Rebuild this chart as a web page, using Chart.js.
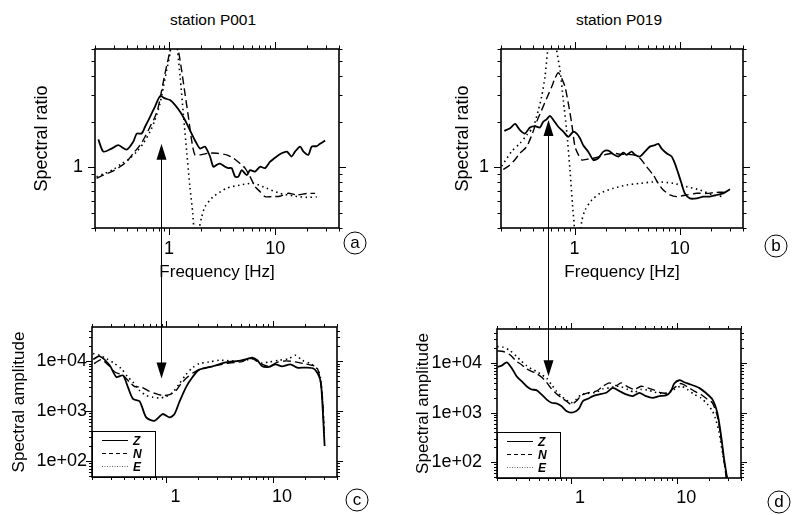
<!DOCTYPE html>
<html>
<head>
<meta charset="utf-8">
<title>Spectral ratios and amplitudes, stations P001 and P019</title>
<script src="https://cdn.jsdelivr.net/npm/chart.js@4.4.1/dist/chart.umd.min.js"></script>
<style>
  html, body { margin: 0; padding: 0; background: #fff; }
  body { width: 792px; height: 515px; position: relative; overflow: hidden;
         font-family: "Liberation Sans", Arial, sans-serif; color: #000; }
  canvas { position: absolute; }
  .title { position: absolute; font-size: 15.5px; transform: translate(-50%, -50%); white-space: nowrap; }
  .tag { position: absolute; width: 21px; height: 21px; border: 1px solid #000; border-radius: 50%;
         font-size: 17px; line-height: 20px; text-align: center; transform: translate(-50%, -50%); }
</style>
</head>
<body>
<div class="title" style="left:213px; top:20px">station P001</div>
<div class="title" style="left:619px; top:20px">station P019</div>

<canvas id="chartA" width="396" height="300" style="left:0; top:0"></canvas>
<canvas id="chartB" width="396" height="300" style="left:396px; top:0"></canvas>
<canvas id="chartC" width="396" height="225" style="left:0; top:290px"></canvas>
<canvas id="chartD" width="396" height="225" style="left:396px; top:290px"></canvas>
<canvas id="arrows" width="792" height="515" style="left:0; top:0"></canvas>

<div class="tag" style="left:355px; top:243px">a</div>
<div class="tag" style="left:776px; top:246px">b</div>
<div class="tag" style="left:357px; top:500px">c</div>
<div class="tag" style="left:779px; top:502px">d</div>

<script>
// tick labels
const freqTicks = [1, 10];
const freqTickLabels = ['1', '10'];
const ratioTicks = [1];
const ratioTickLabels = ['1'];
const ampTicks = [100, 1000, 10000];
const ampTickLabels = ['1e+02', '1e+03', '1e+04'];
const compLabels = ['Z', 'N', 'E'];

// [frequency Hz, value]
// station P001, spectral ratio
const p001RatioZ = [[0.215,1.53],[0.24,1.27],[0.287,1.33],[0.332,1.40],[0.398,1.31],[0.46,1.48],[0.495,1.67],[0.551,1.67],[0.593,1.85],[0.661,2.15],[0.736,2.51],[0.821,2.94],[0.915,2.84],[1.02,2.77],[1.14,2.57],[1.27,2.32],[1.41,2.05],[1.57,1.76],[1.75,1.51],[1.96,1.33],[2.18,1.37],[2.43,1.18],[2.61,1.01],[2.81,1.04],[3.02,1.06],[3.37,1.01],[3.62,0.99],[3.89,0.99],[4.19,0.87],[4.5,0.87],[4.84,0.96],[5.4,0.89],[5.8,0.96],[6.47,0.94],[7.21,1.01],[8.04,0.99],[8.96,1.09],[10.35,1.18],[11.5,1.24],[12.9,1.27],[14.3,1.18],[15.4,1.27],[17.2,1.37],[18.5,1.27],[20.6,1.21],[22.1,1.37],[24.7,1.38],[26.5,1.43],[29.6,1.50]];
const p001RatioN = [[0.207,0.848],[0.24,0.891],[0.287,0.937],[0.344,1.01],[0.398,1.09],[0.46,1.24],[0.532,1.40],[0.593,1.59],[0.661,1.85],[0.736,2.15],[0.792,2.51],[0.852,3.23],[0.915,4.15],[0.984,5.21],[1.11,7.5],[1.22,5.91],[1.31,4.37],[1.41,3.07],[1.52,2.15],[1.63,1.51],[1.75,1.21],[1.96,1.21],[2.34,1.24],[2.81,1.24],[3.49,1.21],[4.04,1.15],[4.67,1.06],[5.2,0.99],[5.8,0.87],[6.47,0.748],[7.21,0.693],[8.04,0.643],[9.29,0.643],[11.1,0.647],[13.3,0.676],[16.0,0.66],[19.9,0.675],[23.8,0.675]];
const p001RatioE = [[0.207,0.869],[0.248,0.914],[0.298,0.970],[0.357,1.06],[0.428,1.15],[0.495,1.27],[0.571,1.44],[0.661,1.72],[0.736,2.05],[0.821,2.64],[0.883,3.39],[0.949,4.37],[1.02,5.62],[1.12,10],[1.20,5.9],[1.27,3.95],[1.36,2.27],[1.47,1.24],[1.57,0.748],[1.67,0.50],[1.80,0.25],[1.93,0.40],[2.03,0.474],[2.18,0.552],[2.61,0.643],[3.49,0.729],[4.67,0.766],[6.24,0.786],[8.32,0.729],[11.1,0.676],[14.9,0.649],[19.9,0.636],[24.7,0.64]];

// station P019, spectral ratio
const p019RatioZ = [[0.215,1.74],[0.244,1.81],[0.272,1.93],[0.303,1.76],[0.338,1.67],[0.377,1.83],[0.421,1.87],[0.469,1.83],[0.505,2.00],[0.543,2.07],[0.585,2.18],[0.629,2.05],[0.701,1.85],[0.782,1.72],[0.873,1.59],[0.975,1.72],[1.05,1.67],[1.13,1.55],[1.21,1.40],[1.35,1.27],[1.51,1.12],[1.68,1.15],[1.88,1.27],[2.10,1.29],[2.34,1.22],[2.61,1.18],[2.91,1.25],[3.13,1.21],[3.49,1.27],[3.76,1.21],[4.19,1.18],[4.67,1.27],[5.21,1.37],[5.82,1.40],[6.26,1.43],[6.73,1.33],[7.51,1.24],[8.38,1.18],[9.01,1.06],[9.70,0.914],[10.4,0.786],[11.2,0.676],[12.5,0.626],[14.5,0.626],[16.8,0.643],[19.4,0.643],[22.4,0.659],[25.9,0.676],[30.1,0.718]];
const p019RatioN = [[0.21,0.97],[0.24,1.03],[0.27,1.12],[0.303,1.24],[0.351,1.37],[0.392,1.63],[0.437,2.00],[0.487,2.38],[0.543,2.84],[0.607,3.39],[0.652,3.85],[0.701,4.19],[0.755,3.85],[0.812,3.39],[0.873,2.64],[0.94,1.95],[1.01,1.37],[1.09,1.21],[1.17,1.12],[1.30,1.13],[1.51,1.15],[1.75,1.18],[2.02,1.22],[2.34,1.24],[2.70,1.22],[3.13,1.22],[3.62,1.21],[4.19,1.15],[4.85,1.01],[5.61,0.89],[6.26,0.786],[6.98,0.711],[8.09,0.66],[9.35,0.643],[11.6,0.659],[14.5,0.676],[18.0,0.675],[22.4,0.686],[26.9,0.686]];
const p019RatioE = [[0.203,1.02],[0.252,1.27],[0.303,1.44],[0.351,1.63],[0.406,1.85],[0.453,2.38],[0.487,2.92],[0.524,3.95],[0.556,5.9],[0.615,10],[0.676,5.9],[0.728,4.37],[0.782,2.77],[0.841,1.76],[0.906,0.96],[0.96,0.552],[0.99,0.43],[1.05,0.25],[1.17,0.44],[1.26,0.525],[1.46,0.611],[1.75,0.676],[2.34,0.729],[3.13,0.766],[4.19,0.786],[6.04,0.805],[8.69,0.786],[11.6,0.748],[15.6,0.711],[20.8,0.659],[25.9,0.643]];

// station P001, spectral amplitude
const p001AmpZ = [[0.205,10970],[0.236,12600],[0.293,8300],[0.339,4830],[0.391,5220],[0.435,3030],[0.485,1760],[0.56,1580],[0.646,750],[0.773,643],[0.924,877],[1.07,750],[1.19,877],[1.32,1510],[1.53,3030],[1.76,4830],[2.03,6790],[2.71,7920],[3.61,9550],[4.81,10160],[5.75,11150],[6.41,11860],[7.14,10470],[7.95,7920],[9.18,7690],[10.6,8700],[12.2,7920],[14.6,8700],[16.9,7450],[20.2,7450],[24.2,7110],[26.9,5220],[28.3,3540],[29.3,1190],[30.6,201]];
const p001AmpN = [[0.209,8970],[0.245,10800],[0.293,7920],[0.327,6090],[0.391,5220],[0.451,3820],[0.502,3120],[0.58,3030],[0.669,2590],[0.773,2290],[0.924,2060],[1.07,2150],[1.23,2590],[1.37,3540],[1.58,4830],[1.83,6090],[2.19,7110],[2.91,8170],[3.88,9250],[5.17,9850],[5.75,11150],[6.41,11300],[7.67,8970],[9.18,7920],[11.0,9550],[13.1,10160],[16.3,9700],[19.5,8970],[23.3,8300],[26.0,7450],[27.9,4130],[29.3,1630],[30.2,404]];
const p001AmpE = [[0.205,14300],[0.236,13200],[0.273,11300],[0.327,8970],[0.377,7110],[0.435,4830],[0.485,3820],[0.56,2590],[0.646,2060],[0.745,1900],[0.86,1840],[0.993,1960],[1.15,2400],[1.32,3540],[1.53,5460],[1.76,7450],[2.03,8970],[2.52,9700],[3.13,10470],[4.17,10160],[5.55,10470],[6.41,11300],[7.95,9250],[9.18,9700],[11.4,10470],[14.1,11300],[16.3,13200],[18.8,10470],[22.5,8970],[26.0,7110],[27.9,4830],[29.3,1630],[30.4,346]];

// station P019, spectral amplitude
const p019AmpZ = [[0.201,8320],[0.221,8850],[0.247,10300],[0.275,7940],[0.306,5410],[0.341,4300],[0.38,3410],[0.424,2930],[0.471,2840],[0.525,2330],[0.585,1850],[0.652,1580],[0.726,1540],[0.809,1360],[0.902,1080],[1.0,1000],[1.12,1080],[1.2,1260],[1.29,1710],[1.44,1900],[1.61,2150],[1.85,2330],[2.14,2510],[2.47,3160],[2.86,2710],[3.3,2330],[3.81,2150],[4.4,2510],[5.08,2150],[5.87,1990],[6.78,2150],[7.84,2220],[8.73,2710],[9.39,3860],[10.5,4500],[11.7,4100],[13.4,3690],[16.1,3160],[18.6,2510],[21.5,1850],[23.9,1000],[25.7,398],[27.7,117],[29.7,45]];
const p019AmpN = [[0.201,17600],[0.229,17100],[0.265,14700],[0.306,10800],[0.341,9260],[0.38,7590],[0.424,6810],[0.471,6120],[0.525,5250],[0.585,4100],[0.652,3020],[0.726,2400],[0.809,2000],[0.902,1710],[1.0,1470],[1.12,1710],[1.25,2220],[1.44,2510],[1.73,2710],[2.0,3410],[2.3,3980],[2.66,3520],[2.97,3980],[3.42,3310],[3.95,2930],[4.56,3410],[5.27,3160],[6.09,2840],[7.03,2510],[8.12,2510],[9.39,3160],[10.8,3860],[12.5,3310],[14.5,2710],[16.7,2330],[19.3,1850],[21.5,1580],[23.9,858],[25.7,341],[27.7,108],[29.1,45]];
const p019AmpE = [[0.201,21500],[0.229,20900],[0.265,17900],[0.306,13600],[0.341,10800],[0.38,8850],[0.424,7590],[0.471,6810],[0.525,5840],[0.585,5010],[0.652,3690],[0.726,2710],[0.809,2150],[0.902,1790],[1.0,1580],[1.12,1850],[1.25,2330],[1.44,2440],[1.73,2590],[2.0,3020],[2.3,3160],[2.66,3410],[2.97,3310],[3.42,2930],[3.95,2590],[4.56,2930],[5.27,2840],[6.09,2590],[7.03,2440],[8.12,2440],[9.39,2930],[10.8,3410],[12.5,2930],[14.5,2330],[16.7,1990],[19.3,1470],[21.5,1080],[23.1,736],[24.8,398],[26.7,158],[28.7,68],[29.7,45]];

const FONT = '"Liberation Sans", Arial, sans-serif';
Chart.defaults.font.family = FONT;
Chart.defaults.color = '#000';

const lineStyles = [
  { w: 1.8, dash: [] },
  { w: 1.4, dash: [8, 4] },
  { w: 1.6, dash: [1.5, 3.5] }
];
const legendDash = [[], [4, 3], [1, 1.5]];

function logMarks(min, max) {
  const out = [];
  for (let e = Math.floor(Math.log10(min)); e <= Math.ceil(Math.log10(max)); e++) {
    for (let m = 1; m <= 9; m++) {
      const v = m * Math.pow(10, e);
      if (v >= min * 0.999 && v <= max * 1.001) out.push({ v, major: m === 1 });
    }
  }
  return out;
}

function drawLegend(chart, a) {
  const ctx = chart.ctx;
  const w = 63, h = 46;
  ctx.fillStyle = '#fff';
  ctx.fillRect(a.left, a.bottom - h, w, h);
  ctx.lineWidth = 1;
  ctx.strokeStyle = '#000';
  ctx.strokeRect(a.left + 0.5, a.bottom - h + 0.5, w, h);
  chart.data.datasets.forEach((ds, i) => {
    const yy = Math.round(a.bottom - 37 + i * 13) + 0.5;
    ctx.save();
    ctx.strokeStyle = i === 2 ? '#666' : '#000';
    ctx.setLineDash(legendDash[i]);
    ctx.beginPath();
    ctx.moveTo(a.left + 10, yy);
    ctx.lineTo(a.left + 36, yy);
    ctx.stroke();
    ctx.restore();
    ctx.fillStyle = '#000';
    ctx.font = 'italic bold 12px ' + FONT;
    ctx.textBaseline = 'middle';
    ctx.fillText(ds.label, a.left + 41, yy + 1);
  });
}

// frame with minor/major ticks on all four sides
const frameTicks = {
  id: 'frameTicks',
  afterDraw(chart, args, opts) {
    const { ctx, chartArea: a, scales: { x, y } } = chart;
    ctx.save();
    ctx.strokeStyle = '#000';
    ctx.lineWidth = 1;
    ctx.beginPath();
    logMarks(x.min, x.max).forEach(t => {
      const p = Math.round(x.getPixelForValue(t.v)) + 0.5;
      const l = t.major ? opts.major : opts.minor;
      ctx.moveTo(p, a.top); ctx.lineTo(p, a.top - l);
      ctx.moveTo(p, a.bottom); ctx.lineTo(p, a.bottom + l);
    });
    logMarks(y.min, y.max).forEach(t => {
      const p = Math.round(y.getPixelForValue(t.v)) + 0.5;
      const l = t.major ? opts.major : opts.minor;
      ctx.moveTo(a.left, p); ctx.lineTo(a.left - l, p);
      ctx.moveTo(a.right, p); ctx.lineTo(a.right + l, p);
    });
    ctx.stroke();
    if (opts.legend) drawLegend(chart, a);
    ctx.lineWidth = 1.6;
    ctx.strokeStyle = '#000';
    ctx.strokeRect(a.left, a.top, a.right - a.left, a.bottom - a.top);
    ctx.restore();
  }
};

function makeChart(id, series, o) {
  return new Chart(document.getElementById(id), {
    type: 'line',
    data: {
      datasets: series.map((s, i) => ({
        label: compLabels[i],
        data: s.map(p => ({ x: p[0], y: p[1] })),
        borderColor: '#000',
        borderWidth: lineStyles[i].w,
        borderDash: lineStyles[i].dash,
        pointRadius: 0,
        tension: 0.25,
        fill: false
      }))
    },
    options: {
      responsive: false,
      animation: false,
      events: [],
      layout: { padding: o.pad },
      plugins: {
        legend: { display: false },
        tooltip: { enabled: false },
        frameTicks: { minor: o.minor, major: o.major, legend: o.legend }
      },
      scales: {
        x: {
          type: 'logarithmic', min: 0.2, max: 40,
          grid: { display: false, drawTicks: false },
          border: { display: false },
          afterBuildTicks: s => { s.ticks = freqTicks.map(v => ({ value: v })); },
          afterFit: s => { s.height = o.xh; },
          ticks: {
            autoSkip: false, maxRotation: 0, padding: o.xpad, labelOffset: o.xoff,
            font: { size: 18 },
            callback: v => freqTickLabels[freqTicks.indexOf(v)] ?? ''
          },
          title: { display: !!o.xTitle, text: o.xTitle || '', font: { size: 17 }, padding: 0 }
        },
        y: {
          type: 'logarithmic', min: o.ymin, max: o.ymax,
          grid: { display: false, drawTicks: false },
          border: { display: false },
          afterBuildTicks: s => { s.ticks = o.yTicks.map(v => ({ value: v })); },
          afterFit: s => { s.width = o.yw; },
          ticks: {
            autoSkip: false, padding: o.ypad,
            font: { size: 18 },
            callback: v => o.yLabels[o.yTicks.indexOf(v)] ?? ''
          },
          title: { display: true, text: o.yTitle, font: { size: o.yTitleSize }, padding: 0 }
        }
      }
    },
    plugins: [frameTicks]
  });
}

const ratioOpts = { ymin: 0.4, ymax: 6, yTicks: ratioTicks, yLabels: ratioTickLabels,
  yTitle: 'Spectral ratio', yTitleSize: 18, xTitle: 'Frequency [Hz]', xh: 55, xpad: 10, xoff: 0,
  ypad: 12, minor: 3.5, major: 7, legend: false };
const ampOpts = { ymin: 48, ymax: 48600, yTicks: ampTicks, yLabels: ampTickLabels,
  yTitle: 'Spectral amplitude', yTitleSize: 17, xTitle: '', xpad: 9, xoff: 9,
  minor: 3, major: 6, legend: true };

const panels = {
  a: { left: 0, top: 0, chart: makeChart('chartA', [p001RatioZ, p001RatioN, p001RatioE],
        Object.assign({}, ratioOpts, { yw: 64, pad: { left: 31, top: 49, right: 57, bottom: 17 } })) },
  b: { left: 396, top: 0, chart: makeChart('chartB', [p019RatioZ, p019RatioN, p019RatioE],
        Object.assign({}, ratioOpts, { yw: 49, pad: { left: 56, top: 49, right: 49, bottom: 17 } })) },
  c: { left: 0, top: 290, chart: makeChart('chartC', [p001AmpZ, p001AmpN, p001AmpE],
        Object.assign({}, ampOpts, { yw: 83, ypad: 5, xh: 38, pad: { left: 9, top: 37, right: 59, bottom: 0 } })) },
  d: { left: 396, top: 290, chart: makeChart('chartD', [p019AmpZ, p019AmpN, p019AmpE],
        Object.assign({}, ampOpts, { yw: 84, ypad: 15, xh: 37, pad: { left: 17, top: 39, right: 51, bottom: 0 } })) }
};

// arrows linking the resonance peak to the amplitude trough
const actx = document.getElementById('arrows').getContext('2d');
function head(x, tipY, dir) {
  actx.beginPath();
  actx.moveTo(x, tipY);
  actx.lineTo(x - 5, tipY - dir * 16);
  actx.lineTo(x + 5, tipY - dir * 16);
  actx.closePath();
  actx.fill();
}
function drawArrow(upper, lower, f, vTop, vBottom) {
  const x = Math.round(upper.left + upper.chart.scales.x.getPixelForValue(f)) + 0.5;
  const y1 = upper.top + upper.chart.scales.y.getPixelForValue(vTop);
  const y2 = lower.top + lower.chart.scales.y.getPixelForValue(vBottom);
  actx.strokeStyle = '#000';
  actx.fillStyle = '#000';
  actx.lineWidth = 1;
  actx.beginPath();
  actx.moveTo(x, y1 + 14);
  actx.lineTo(x, y2 - 14);
  actx.stroke();
  head(x, y1, -1);
  head(x, y2, 1);
}
drawArrow(panels.a, panels.c, 0.83, 1.43, 4540);
drawArrow(panels.b, panels.d, 0.56, 2.05, 5400);
</script>
</body>
</html>
